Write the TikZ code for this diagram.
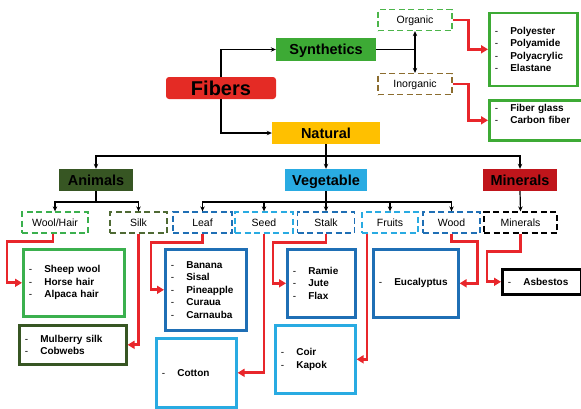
\documentclass[tikz,border=0pt]{standalone}
\usepackage{fontspec}
\setmainfont{Liberation Sans}
\usetikzlibrary{arrows.meta}
\definecolor{fiberred}{HTML}{E42B25}
\definecolor{synthgreen}{HTML}{3DAA35}
\definecolor{natyellow}{HTML}{FFC000}
\definecolor{animgreen}{HTML}{375623}
\definecolor{vegblue}{HTML}{29ABE2}
\definecolor{minred}{HTML}{C0151B}
\definecolor{orggreen}{HTML}{4CB54A}
\definecolor{inorgbrown}{HTML}{8C6D2F}
\definecolor{woolgreen}{HTML}{3BB04E}
\definecolor{silkgreen}{HTML}{4F6A34}
\definecolor{darkblue}{HTML}{1F6FB5}
\definecolor{lightblue}{HTML}{29ABE2}
\definecolor{conn}{HTML}{E8262B}
\newcommand{\itm}[1]{\makebox[15.5pt][l]{\mdseries -}#1}
\begin{document}
\begin{tikzpicture}[x=1pt,y=-1pt,
  catbox/.style={rectangle, inner sep=0pt, minimum height=22pt, text height=10.4pt, text depth=0pt, font=\fontsize{14.5}{16}\selectfont\bfseries},
  subbox/.style={rectangle, draw=#1, line width=1.3pt, dash pattern=on 6pt off 3.5pt, inner sep=0pt, minimum height=21pt, text height=7.6pt, text depth=0pt, font=\fontsize{10.5}{12}\selectfont},
  listbox/.style={rectangle, draw=#1, line width=2.6pt, inner xsep=5.5pt, inner ysep=0pt, align=left, anchor=north west, font=\fontsize{10}{12.5}\selectfont\bfseries},
  blk/.style={line width=1.2pt, black},
  blkarr/.style={blk, -{Stealth[length=5pt,width=4.5pt]}},
  blkdbl/.style={blk, {Stealth[length=5pt,width=4.5pt]}-{Stealth[length=5pt,width=4.5pt]}},
  redarr/.style={line width=2.7pt, conn, -{Triangle[length=7pt,width=8pt]}}
]
\useasboundingbox (0,0) rectangle (581,408);
\clip (0,0) rectangle (581,408);

% top level
\node[catbox, fill=fiberred, rounded corners=3pt, minimum width=110pt, text height=14.4pt, text depth=0pt, font=\fontsize{20}{22}\selectfont\bfseries] (fibers) at (221,88) {Fibers};
\node[catbox, fill=synthgreen, minimum width=100pt, minimum height=23pt] (synth) at (326,49.5) {Synthetics};
\node[catbox, fill=natyellow, minimum width=108pt] (natural) at (326,133) {Natural};

\node[subbox=orggreen, minimum width=74pt] (organic) at (415,20) {Organic};
\node[subbox=inorgbrown, minimum width=74pt] (inorganic) at (415,84) {Inorganic};
\coordinate (sj) at (415,49.5);

\node[listbox=synthgreen, text width=77pt, minimum height=73pt] (poly) at (488,11.5)
  {\itm{Polyester}\\\itm{Polyamide}\\\itm{Polyacrylic}\\\itm{Elastane}};
\node[listbox=synthgreen, text width=99pt, minimum height=40pt] (fg) at (488,99)
  {\itm{Fiber glass}\\\itm{Carbon fiber}\\\mbox{}};

% categories
\node[catbox, fill=animgreen, minimum width=74pt] (animals) at (96,180) {Animals};
\node[catbox, fill=vegblue, minimum width=82pt] (veg) at (326,180) {Vegetable};
\node[catbox, fill=minred, minimum width=74pt] (minerals) at (520,180) {Minerals};
\coordinate (nj) at (326,156);

% sub boxes
\node[subbox=woolgreen, minimum width=66pt] (wool) at (55,222.5) {Wool/Hair};
\node[subbox=silkgreen, minimum width=57pt] (silk) at (138.5,222.5) {Silk};
\node[subbox=darkblue, minimum width=59pt] (leaf) at (202.5,222.5) {Leaf};
\node[subbox=lightblue, minimum width=58pt] (seed) at (264,222.5) {Seed};
\node[subbox=darkblue, minimum width=57pt] (stalk) at (326,222.5) {Stalk};
\node[subbox=lightblue, minimum width=56pt] (fruits) at (390,222.5) {Fruits};
\node[subbox=darkblue, minimum width=57pt] (wood) at (451.5,222.5) {Wood};
\node[subbox=black, minimum width=73pt] (min2) at (520.5,222.5) {Minerals};
\coordinate (aj) at (96,202);
\coordinate (vj) at (326,202);

% lists
\node[listbox=woolgreen, text width=90pt, minimum height=67pt] (sheep) at (22,248)
  {\itm{Sheep wool}\\\itm{Horse hair}\\\itm{Alpaca hair}};
\node[listbox=animgreen, text width=96pt, minimum height=39pt] (mulb) at (18,324)
  {\itm{Mulberry silk}\\\itm{Cobwebs}};
\node[listbox=darkblue, text width=70pt, minimum height=81pt] (banana) at (164,248)
  {\itm{Banana}\\\itm{Sisal}\\\itm{Pineapple}\\\itm{Curaua}\\\itm{Carnauba}};
\node[listbox=lightblue, text width=69pt, minimum height=69pt] (cotton) at (155,337)
  {\itm{Cotton}};
\node[listbox=darkblue, text width=57pt, minimum height=68pt] (ramie) at (286,248)
  {\itm{Ramie}\\\itm{Jute}\\\itm{Flax}};
\node[listbox=lightblue, text width=69pt, minimum height=68pt] (coir) at (274,324)
  {\itm{Coir}\\\itm{Kapok}};
\node[listbox=darkblue, text width=74pt, minimum height=68pt] (euc) at (372,248)
  {\itm{Eucalyptus}};
\node[listbox=black, text width=68pt, minimum height=25pt] (asb) at (501,268)
  {\itm{Asbestos}};

% black connectors
\draw[blkarr] (fibers.north) |- (synth.west);
\draw[blkarr] (fibers.south) |- (natural.west);
\draw[blk] (synth.east) -- (sj);
\draw[blkdbl] (organic.south) -- (inorganic.north);
\draw[blk] (natural.south) -- (nj);
\draw[blkarr] (nj) -| (animals.north);
\draw[blkarr] (nj) -- (veg.north);
\draw[blkarr] (nj) -| (minerals.north);
\draw[blk] (animals.south) -- (aj);
\draw[blkarr] (aj) -| (wool.north);
\draw[blkarr] (aj) -| (silk.north);
\draw[blk] (veg.south) -- (vj);
\draw[blkarr] (vj) -| (leaf.north);
\draw[blkarr] (vj) -| (seed.north);
\draw[blkarr] (vj) -- (stalk.north);
\draw[blkarr] (vj) -| (fruits.north);
\draw[blkarr] (vj) -| (wood.north);
\draw[blkarr] (minerals.south) -- (min2.north);

% red connectors
\draw[redarr] (organic.east) -- ++(16,0) |- (poly.west);
\draw[redarr] (inorganic.east) -- ++(16,0) |- (fg.west);
\draw[redarr] ([xshift=-2pt]wool.south) -- ++(0,8) -| ([xshift=-15pt]sheep.west) -- (sheep.west);
\draw[redarr] (silk.south) |- (mulb.east);
\draw[redarr] (leaf.south) -- ++(0,9) -| ([xshift=-13pt]banana.west) -- (banana.west);
\draw[redarr] (seed.south) |- (cotton.east);
\draw[redarr] (stalk.south) -- ++(0,9) -| ([xshift=-13pt]ramie.west) -- (ramie.west);
\draw[redarr] ([xshift=-23pt]fruits.south) |- (coir.east);
\draw[redarr] (wood.south) -- ++(0,8) -| ([xshift=18pt]euc.east) -- (euc.east);
\draw[redarr] (min2.south) -- ++(0,18) -| ([xshift=-14pt]asb.west) -- (asb.west);
\end{tikzpicture}
\end{document}
